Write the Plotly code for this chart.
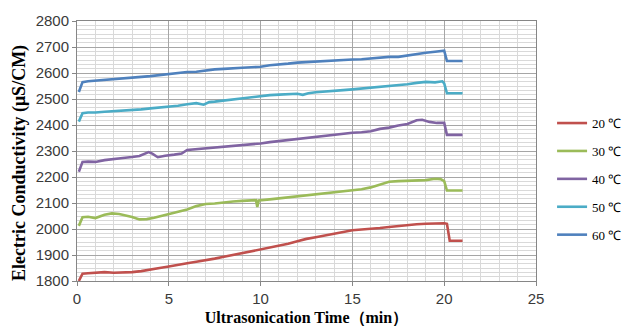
import plotly.graph_objects as go

# ---- data ----
t20 = [0.1, 0.3, 0.6, 1.0, 1.5, 2.0, 2.5, 3.0, 3.5, 4.0, 4.5, 5.0, 5.5, 6.0, 6.5, 7.0, 7.5, 8.0, 8.5, 9.0, 9.5, 10.0,
       10.5, 11.0, 11.5, 12.0, 12.5, 13.0, 13.5, 14.0, 14.5, 15.0, 15.5, 16.0, 16.5, 17.0, 17.5, 18.0, 18.5, 19.0,
       19.5, 20.0, 20.15, 20.3, 21.0]
v20 = [1800, 1828, 1830, 1832, 1834, 1832, 1833, 1834, 1838, 1845, 1850, 1856, 1863, 1868, 1874, 1879, 1886, 1893,
       1900, 1908, 1915, 1923, 1930, 1937, 1943, 1953, 1962, 1968, 1975, 1982, 1990, 1995, 1998, 2000, 2004, 2008,
       2012, 2014, 2018, 2020, 2022, 2022, 2020, 1955, 1955]

t30 = [0.1, 0.3, 0.6, 1.0, 1.5, 1.9, 2.3, 2.7, 3.0, 3.4, 3.8, 4.2, 4.6, 5.0, 5.5, 6.0, 6.5, 7.0, 7.5, 8.0, 8.5, 9.0,
       9.5, 9.75, 9.82, 9.9, 10.5, 11.0, 11.5, 12.0, 12.5, 13.0, 13.5, 14.0, 14.5, 15.0, 15.5, 16.0, 16.5, 17.0,
       17.5, 18.0, 18.5, 19.0, 19.5, 19.8, 20.0, 20.15, 21.0]
v30 = [2012, 2045, 2047, 2042, 2055, 2060, 2058, 2052, 2046, 2037, 2038, 2043, 2050, 2058, 2066, 2075, 2088, 2096,
       2098, 2103, 2106, 2108, 2110, 2111, 2085, 2110, 2114, 2118, 2122, 2124, 2130, 2134, 2138, 2141, 2145, 2148,
       2153, 2160, 2172, 2182, 2184, 2185, 2187, 2188, 2193, 2192, 2184, 2148, 2148]

t40 = [0.1, 0.3, 0.6, 1.0, 1.5, 2.0, 2.5, 3.0, 3.4, 3.9, 4.1, 4.4, 4.8, 5.3, 5.7, 6.0, 6.5, 7.0, 7.5, 8.0, 8.5, 9.0,
       9.5, 10.0, 10.5, 11.0, 11.5, 12.0, 12.5, 13.0, 13.5, 14.0, 14.5, 15.0, 15.5, 16.0, 16.5, 17.0, 17.5, 18.0,
       18.5, 18.8, 19.2, 19.6, 20.0, 20.15, 21.0]
v40 = [2220, 2258, 2259, 2258, 2265, 2268, 2273, 2277, 2281, 2296, 2290, 2276, 2282, 2286, 2290, 2304, 2307, 2310,
       2313, 2318, 2320, 2323, 2326, 2329, 2334, 2338, 2343, 2348, 2352, 2356, 2359, 2362, 2366, 2370, 2372, 2376,
       2385, 2390, 2398, 2404, 2418, 2420, 2412, 2408, 2408, 2362, 2362]

t50 = [0.1, 0.3, 0.6, 1.0, 1.5, 2.0, 2.5, 3.0, 3.5, 4.0, 4.5, 5.0, 5.5, 6.0, 6.5, 6.9, 7.2, 7.5, 8.0, 8.5, 9.0, 9.5,
       10.0, 10.5, 11.0, 11.5, 12.0, 12.3, 12.6, 13.0, 13.5, 14.0, 14.5, 15.0, 15.5, 16.0, 16.5, 17.0, 17.5, 18.0,
       18.5, 19.0, 19.5, 19.9, 20.0, 20.15, 21.0]
v50 = [2413, 2445, 2448, 2448, 2451, 2453, 2455, 2457, 2460, 2464, 2467, 2470, 2474, 2480, 2484, 2478, 2488, 2490,
       2494, 2498, 2503, 2508, 2512, 2515, 2517, 2518, 2520, 2516, 2522, 2526, 2528, 2531, 2534, 2537, 2540, 2544,
       2548, 2551, 2554, 2557, 2562, 2566, 2564, 2568, 2560, 2522, 2522]

t60 = [0.1, 0.3, 0.6, 1.0, 1.5, 2.0, 2.5, 3.0, 3.5, 4.0, 4.5, 5.0, 5.5, 6.0, 6.5, 7.0, 7.5, 8.0, 8.5, 9.0, 9.5, 10.0,
       10.5, 11.0, 11.5, 12.0, 12.5, 13.0, 13.5, 14.0, 14.5, 15.0, 15.5, 16.0, 16.5, 17.0, 17.5, 18.0, 18.5, 19.0,
       19.5, 19.9, 20.0, 20.15, 21.0]
v60 = [2527, 2565, 2568, 2570, 2573, 2576, 2580, 2580, 2585, 2588, 2592, 2598, 2602, 2604, 2605, 2610, 2614, 2616,
       2619, 2620, 2622, 2624, 2630, 2632, 2636, 2640, 2642, 2646, 2648, 2650, 2650, 2652, 2653, 2656, 2658, 2662,
       2662, 2668, 2674, 2678, 2682, 2687, 2686, 2646, 2646]

series_names = ["20 ℃", "30 ℃", "40 ℃", "50 ℃", "60 ℃"]
series_t = [t20, t30, t40, t50, t60]
series_v = [v20, v30, v40, v50, v60]
colors = ["#C0504D", "#9BBB59", "#8064A2", "#4BACC6", "#4F81BD"]

fig = go.Figure()
for i, (name, t, v, c) in enumerate(zip(series_names, series_t, series_v, colors)):
    fig.add_trace(go.Scatter(x=t, y=v, mode="lines", name=name, legendgroup=f"g{i}",
                             line=dict(color=c, width=2.6)))

tick_font = dict(family="Liberation Sans, Arial, sans-serif", size=15, color="#3a3a3a")
serif = "Liberation Serif, Times New Roman, serif"

# page body has an 8px default margin -> figure is 625x326 and offsets are reduced by 8
fig.update_layout(
    width=625, height=326,
    margin=dict(l=69, r=97, t=13, b=53, autoexpand=False),
    paper_bgcolor="white", plot_bgcolor="white",
    showlegend=True,
    legend=dict(x=1.035, y=0.665, xanchor="left", yanchor="top",
                font=dict(family=serif, size=13, color="#000"),
                tracegroupgap=8, itemwidth=30, bgcolor="rgba(0,0,0,0)"),
    xaxis=dict(range=[0, 25], tickmode="linear", tick0=0, dtick=5, automargin=False,
               showgrid=True, gridcolor="#A6A6A6", gridwidth=1,
               minor=dict(dtick=1, showgrid=True, gridcolor="#D9D9D9", gridwidth=1),
               showline=True, linecolor="#868686", linewidth=1, mirror=True,
               ticks="outside", ticklen=4, tickcolor="#868686",
               tickfont=tick_font, zeroline=False,
               title=dict(text="<b>Ultrasonication Time（min）</b>",
                          font=dict(family=serif, size=16, color="#000"), standoff=5)),
    yaxis=dict(range=[1800, 2800], tickmode="linear", tick0=1800, dtick=100, automargin=False,
               showgrid=True, gridcolor="#A6A6A6", gridwidth=1,
               minor=dict(dtick=100 / 6, showgrid=True, gridcolor="#D9D9D9", gridwidth=1),
               showline=True, linecolor="#868686", linewidth=1, mirror=True,
               ticks="outside", ticklen=4, tickcolor="#868686",
               tickfont=tick_font, zeroline=False),
    annotations=[dict(text="<b>Electric Conductivity (μS/CM)</b>", textangle=-90,
                      xref="paper", yref="paper", x=-0.124, y=0.454, xanchor="center", yanchor="middle",
                      showarrow=False, font=dict(family=serif, size=18, color="#000"))],
)

fig.write_html("out.html")
